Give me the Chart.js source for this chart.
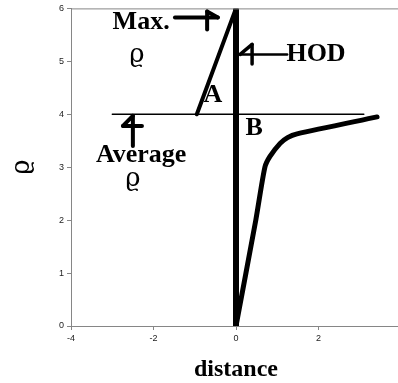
<!DOCTYPE html>
<html>
<head>
<meta charset="utf-8">
<script src="https://cdn.jsdelivr.net/npm/chart.js@4/dist/chart.umd.min.js"></script>
<style>
  html, body { margin: 0; padding: 0; background: #fff; overflow: hidden; }
  #wrap { position: absolute; left: 0; top: 0; width: 410px; height: 383px; }
</style>
</head>
<body>
<div id="wrap"><canvas id="myChart" width="410" height="383"></canvas></div>
<script>
// data
var avgX = [-3, 3.1];
var avgY = [4, 4];
var lineAX = [-0.95, 0];
var lineAY = [4, 6];
var hodX = [0, 0];
var hodY = [0, 6];
var curveX = [0, 0.48, 0.7, 0.82, 1.07, 1.25, 1.48, 3.42];
var curveY = [0, 2.0, 3.0, 3.2, 3.45, 3.56, 3.63, 3.95];
var xTicks = [-4, -2, 0, 2];
var yTicks = [0, 1, 2, 3, 4, 5, 6];

function pts(xs, ys) {
    return xs.map(function (x, i) { return { x: x, y: ys[i] }; });
}

// text labels and arrows, placed in data units
var labels = [
    { text: "Max.", x: -2.3, y: 5.74, font: "bold 26px 'Liberation Serif'" },
    { text: "\u03f1", x: -2.4, y: 5.12, font: "26px 'DejaVu Serif'" },
    { text: "HOD", x: 1.94, y: 5.13, font: "bold 26px 'Liberation Serif'" },
    { text: "Average", x: -2.3, y: 3.22, font: "bold 26px 'Liberation Serif'" },
    { text: "\u03f1", x: -2.5, y: 2.78, font: "26px 'DejaVu Serif'" },
    { text: "A", x: -0.56, y: 4.36, font: "bold 26px 'Liberation Serif'" },
    { text: "B", x: 0.44, y: 3.74, font: "bold 26px 'Liberation Serif'" }
];
var arrows = [
    // shaft, bar, diagonal  (line widths: shaft, head)
    { w: 4, hw: 4, segs: [[-1.48, 5.83, -0.44, 5.83], [-0.7, 5.94, -0.7, 5.6], [-0.7, 5.94, -0.44, 5.83]] },
    { w: 2.5, hw: 3.5, segs: [[0.1, 5.13, 1.24, 5.13], [0.39, 5.32, 0.39, 4.95], [0.39, 5.32, 0.1, 5.13]] },
    { w: 4, hw: 4, segs: [[-2.5, 3.4, -2.5, 3.97], [-2.74, 3.78, -2.28, 3.78], [-2.74, 3.78, -2.5, 3.97]] }
];

var extras = {
    id: "extras",
    afterDatasetsDraw: function (chart) {
        var ctx = chart.ctx, sx = chart.scales.x, sy = chart.scales.y, a = chart.chartArea;
        ctx.save();
        ctx.strokeStyle = "#868686";
        ctx.lineWidth = 1;
        ctx.beginPath();
        ctx.moveTo(a.left, a.top + 0.5);
        ctx.lineTo(a.right, a.top + 0.5);
        ctx.stroke();

        ctx.strokeStyle = "#000";
        ctx.lineCap = "round";
        arrows.forEach(function (ar) {
            ar.segs.forEach(function (s, i) {
                ctx.lineWidth = i === 0 ? ar.w : ar.hw;
                ctx.beginPath();
                ctx.moveTo(sx.getPixelForValue(s[0]), sy.getPixelForValue(s[1]));
                ctx.lineTo(sx.getPixelForValue(s[2]), sy.getPixelForValue(s[3]));
                ctx.stroke();
            });
        });

        ctx.fillStyle = "#000";
        ctx.textAlign = "center";
        ctx.textBaseline = "middle";
        labels.forEach(function (l) {
            ctx.font = l.font;
            ctx.fillText(l.text, sx.getPixelForValue(l.x), sy.getPixelForValue(l.y));
        });
        ctx.restore();
    }
};

function line(xs, ys, w) {
    return {
        data: pts(xs, ys),
        showLine: true,
        borderColor: "#000",
        borderWidth: w,
        pointRadius: 0,
        borderCapStyle: "round",
        borderJoinStyle: "round",
        fill: false
    };
}

var curve = line(curveX, curveY, 5);
curve.tension = 0.25;

var myChart = new Chart(document.getElementById("myChart").getContext("2d"), {
    type: "scatter",
    data: {
        datasets: [
            line(avgX, avgY, 1.3),
            line(lineAX, lineAY, 4),
            line(hodX, hodY, 6),
            curve
        ]
    },
    options: {
        responsive: false,
        animation: false,
        layout: { padding: { top: 7, right: 9, left: 0, bottom: 0 } },
        plugins: { legend: { display: false }, tooltip: { enabled: false } },
        scales: {
            x: {
                type: "linear",
                min: -4,
                max: 4,
                afterFit: function (s) { s.height = 57; },
                afterBuildTicks: function (s) {
                    s.ticks = xTicks.map(function (v) { return { value: v }; });
                },
                grid: { drawOnChartArea: false, tickLength: 4, color: "#868686" },
                border: { color: "#868686", width: 1 },
                ticks: { color: "#222", padding: 3, font: { family: "'Liberation Sans'", size: 9 } },
                title: {
                    display: true,
                    text: "distance",
                    color: "#000",
                    padding: { top: 0, bottom: 0 },
                    font: { family: "'Liberation Serif'", size: 24, weight: "bold", lineHeight: 1.1 }
                }
            },
            y: {
                type: "linear",
                min: 0,
                max: 6,
                afterFit: function (s) { s.width = 71; },
                afterBuildTicks: function (s) {
                    s.ticks = yTicks.map(function (v) { return { value: v }; });
                },
                grid: { drawOnChartArea: false, tickLength: 4, color: "#868686" },
                border: { color: "#868686", width: 1 },
                ticks: { color: "#222", padding: 3, font: { family: "'Liberation Sans'", size: 9 } },
                title: {
                    display: true,
                    text: "\u03f1",
                    color: "#000",
                    padding: { top: 8, bottom: 0 },
                    font: { family: "'DejaVu Serif'", size: 26, lineHeight: 1.1 }
                }
            }
        }
    },
    plugins: [extras]
});
</script>
</body>
</html>
